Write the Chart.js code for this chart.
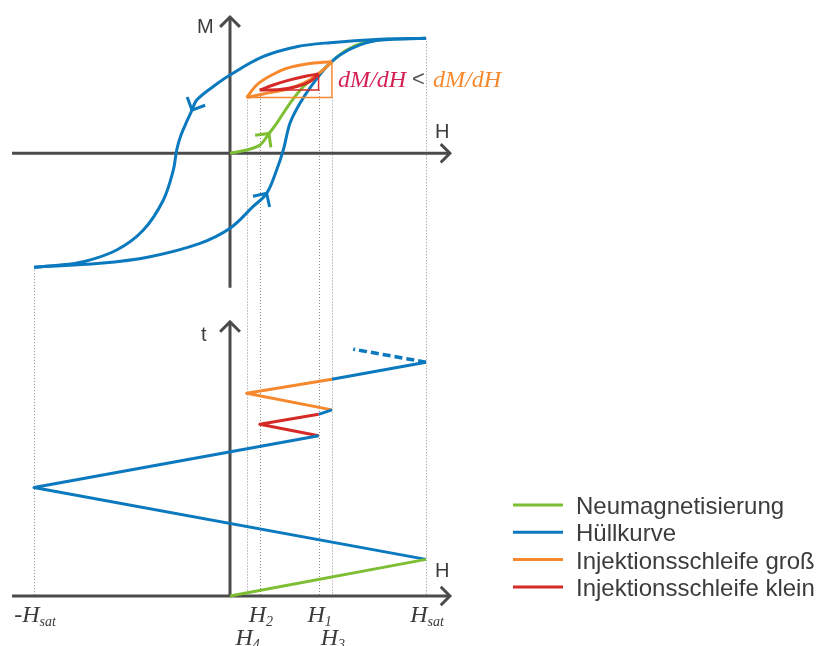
<!DOCTYPE html>
<html>
<head>
<meta charset="utf-8">
<script src="https://cdn.jsdelivr.net/npm/chart.js@4.4.0/dist/chart.umd.min.js"></script>
<style>
  html, body { margin: 0; padding: 0; background: #fff; }
  #wrap { position: relative; width: 816px; height: 646px; }
  canvas { position: absolute; left: 0; top: 0; }
</style>
</head>
<body>
<div id="wrap"><canvas id="hyst" width="816" height="646"></canvas></div>
<script>
// H in units of H_sat, M in units of M_sat, t in arbitrary time steps

// field values of the turning points
const H4 = 0.085, H2 = 0.152, H1 = 0.452, H3 = 0.520;

// envelope (Hüllkurve), descending branch from +H_sat
const envDownH = [1.0, 0.765, 0.510, 0.340, 0.168, 0.0, -0.087, -0.170, -0.194, -0.217, -0.250, -0.272, -0.289, -0.340, -0.442, -0.578, -0.748, -0.893, -1.0];
const envDownM = [1.0, 0.991, 0.962, 0.927, 0.840, 0.681, 0.579, 0.463, 0.376, 0.290, 0.159, 0.029, -0.145, -0.406, -0.667, -0.841, -0.943, -0.976, -0.99];

// envelope, ascending branch from -H_sat
const envUpH = [-1.0, -0.663, -0.408, -0.153, 0.0, 0.117, 0.187, 0.238, 0.272, 0.306, 0.357, 0.419, 0.493, 0.561, 0.663, 0.765, 1.0];
const envUpM = [-0.99, -0.957, -0.899, -0.783, -0.652, -0.464, -0.348, -0.145, 0.029, 0.261, 0.435, 0.595, 0.753, 0.855, 0.942, 0.985, 1.0];

// virgin curve (Neumagnetisierung)
const virginH = [0, 0.085, 0.153, 0.199, 0.238, 0.306, 0.374, H1, H3, 0.595, 0.697, 0.816];
const virginM = [0, 0.029, 0.072, 0.172, 0.261, 0.435, 0.579, 0.690, 0.797, 0.898, 0.970, 0.994];

// large minor loop H3 -> H4 -> H3
const bigUpperH = [H3, 0.391, 0.289, 0.204, 0.136, H4];
const bigUpperM = [0.797, 0.777, 0.739, 0.672, 0.594, 0.485];
const bigLowerH = [H4, 0.170, 0.289, 0.391, 0.476, H3];
const bigLowerM = [0.485, 0.516, 0.557, 0.623, 0.725, 0.797];

// small minor loop H1 -> H2 -> H1
const smallUpperH = [H1, 0.391, 0.306, 0.221, H2];
const smallUpperM = [0.690, 0.672, 0.638, 0.594, 0.550];
const smallLowerH = [H2, 0.255, 0.342, 0.408, H1];
const smallLowerM = [0.550, 0.555, 0.581, 0.624, 0.690];

// secant triangles
const bigTriH = [H4, H3, H3];
const bigTriM = [0.485, 0.485, 0.797];
const smallTriH = [H2, H1, H1];
const smallTriM = [0.550, 0.550, 0.690];

// field over time
const tVirginH = [0, 1];
const tVirginT = [0, 0.99];
const tEnvH = [1, -1, H1];
const tEnvT = [0.99, 2.93, 4.33];
const tSmallH = [H1, H2, H1];
const tSmallT = [4.33, 4.64, 4.91];
const tEnv2H = [H1, H3];
const tEnv2T = [4.91, 5.03];
const tBigH = [H3, H4, H3];
const tBigT = [5.03, 5.48, 5.86];
const tEnv3H = [H3, 1];
const tEnv3T = [5.86, 6.32];
const tNextH = [1, 0.629];
const tNextT = [6.32, 6.67];

// field ticks on the time axis
const tickH = [-1, H4, H2, H1, H3, 1];
const tickBase = ['-H', 'H', 'H', 'H', 'H', 'H'];
const tickSub = ['sat', '4', '2', '1', '3', 'sat'];
const tickRow = [0, 1, 0, 0, 1, 0];

// dotted guides: field and the M value where the guide starts
const guideH = [-1, H4, H2, H1, H3, 1];
const guideM = [-0.99, 0.485, 0.550, 0.550, 0.485, 1.0];

const legendLabels = ['Neumagnetisierung', 'Hüllkurve', 'Injektionsschleife groß', 'Injektionsschleife klein'];

const GREEN = '#7dbe33', BLUE = '#0b79be', ORANGE = '#f6892e', RED = '#d52a27';
const legendColors = [GREEN, BLUE, ORANGE, RED];
const AXIS = '#4b4b4b', DOT = '#8c8c8c', TEXT = '#3c3c3c';

const pts = (xs, ys) => xs.map((x, i) => ({ x: x, y: ys[i] }));

function curve(xs, ys, color, axis, extra) {
  return Object.assign({
    data: pts(xs, ys),
    yAxisID: axis,
    borderColor: color,
    borderWidth: 3,
    borderJoinStyle: 'round',
    tension: 0.35,
    pointRadius: 0,
    fill: false
  }, extra || {});
}

const datasets = [
  // top panel: M(H)
  curve(smallTriH, smallTriM, RED, 'm', { borderWidth: 1.5, tension: 0, borderJoinStyle: 'miter' }),
  curve(smallUpperH, smallUpperM, RED, 'm'),
  curve(smallLowerH, smallLowerM, RED, 'm'),
  curve(bigTriH, bigTriM, ORANGE, 'm', { borderWidth: 1.5, tension: 0, borderJoinStyle: 'miter' }),
  curve(bigUpperH, bigUpperM, ORANGE, 'm'),
  curve(bigLowerH, bigLowerM, ORANGE, 'm'),
  curve(envDownH, envDownM, BLUE, 'm', { arrowAt: 8 }),
  curve(envUpH, envUpM, BLUE, 'm', { arrowAt: 6 }),
  curve(virginH, virginM, GREEN, 'm', { arrowAt: 3 }),
  // bottom panel: H(t)
  curve(tVirginH, tVirginT, GREEN, 't', { tension: 0 }),
  curve(tEnvH, tEnvT, BLUE, 't', { tension: 0 }),
  curve(tSmallH, tSmallT, RED, 't', { tension: 0 }),
  curve(tEnv2H, tEnv2T, BLUE, 't', { tension: 0 }),
  curve(tBigH, tBigT, ORANGE, 't', { tension: 0 }),
  curve(tEnv3H, tEnv3T, BLUE, 't', { tension: 0 }),
  curve(tNextH, tNextT, BLUE, 't', { tension: 0, borderDash: [8, 4], borderWidth: 3.5, borderCapStyle: 'butt' })
];

function chevron(ctx, x, y, ang, len, color, lw) {
  ctx.save();
  ctx.strokeStyle = color;
  ctx.lineWidth = lw;
  ctx.lineJoin = 'miter';
  ctx.beginPath();
  ctx.moveTo(x + len * Math.cos(ang + Math.PI * 0.75), y + len * Math.sin(ang + Math.PI * 0.75));
  ctx.lineTo(x, y);
  ctx.lineTo(x + len * Math.cos(ang - Math.PI * 0.75), y + len * Math.sin(ang - Math.PI * 0.75));
  ctx.stroke();
  ctx.restore();
}

const decor = {
  id: 'decor',
  beforeDatasetsDraw(chart) {
    const ctx = chart.ctx;
    const sx = chart.scales.x, sm = chart.scales.m, st = chart.scales.t;

    // dotted guides from the curves down to the time axis
    ctx.save();
    ctx.strokeStyle = DOT;
    ctx.lineWidth = 1;
    ctx.setLineDash([1, 2]);
    guideH.forEach((h, i) => {
      const x = Math.round(sx.getPixelForValue(h)) + 0.5;
      ctx.beginPath();
      ctx.moveTo(x, sm.getPixelForValue(guideM[i]));
      ctx.lineTo(x, st.getPixelForValue(0));
      ctx.stroke();
    });
    ctx.restore();

    // axes
    ctx.save();
    ctx.strokeStyle = AXIS;
    ctx.lineWidth = 3;
    const x0 = sx.getPixelForValue(0);
    const xl = sx.getPixelForValue(-1.112), xr = sx.getPixelForValue(1.122);
    const yM0 = sm.getPixelForValue(0), yT0 = st.getPixelForValue(0);
    const mTop = sm.getPixelForValue(1.185), mBot = sm.getPixelForValue(-1.17);
    const tTop = st.getPixelForValue(7.41);
    ctx.beginPath();
    ctx.moveTo(xl, yM0); ctx.lineTo(xr, yM0);
    ctx.moveTo(x0, mBot); ctx.lineTo(x0, mTop);
    ctx.moveTo(xl, yT0); ctx.lineTo(xr, yT0);
    ctx.moveTo(x0, yT0); ctx.lineTo(x0, tTop);
    ctx.stroke();
    ctx.restore();
    chevron(ctx, xr, yM0, 0, 13, AXIS, 3);
    chevron(ctx, xr, yT0, 0, 13, AXIS, 3);
    chevron(ctx, x0, mTop, -Math.PI / 2, 14, AXIS, 3);
    chevron(ctx, x0, tTop, -Math.PI / 2, 14, AXIS, 3);
  },
  afterDatasetsDraw(chart) {
    const ctx = chart.ctx;
    const sx = chart.scales.x;

    // direction arrows on the curves
    chart.data.datasets.forEach((ds, i) => {
      if (ds.arrowAt === undefined) return;
      const p = chart.getDatasetMeta(i).data;
      const k = ds.arrowAt;
      const a = p[k - 1], b = p[k + 1];
      chevron(ctx, p[k].x, p[k].y, Math.atan2(b.y - a.y, b.x - a.x), 14, ds.borderColor, 3);
    });

    ctx.save();
    ctx.fillStyle = TEXT;
    ctx.textBaseline = 'alphabetic';
    ctx.font = '20px "Liberation Sans", Arial, sans-serif';
    ctx.fillText('M', 197, 33);
    ctx.fillText('H', 435, 138);
    ctx.fillText('t', 201, 341);
    ctx.fillText('H', 435, 577);

    // slope comparison
    ctx.font = 'italic 24px "Liberation Serif", serif';
    ctx.fillStyle = '#d41f52';
    ctx.fillText('dM/dH', 338, 87);
    ctx.fillStyle = ORANGE;
    ctx.fillText('dM/dH', 433, 87);
    ctx.font = '22px "Liberation Sans", Arial, sans-serif';
    ctx.fillStyle = '#555';
    ctx.fillText('<', 412, 86);

    // field tick labels
    ctx.fillStyle = TEXT;
    tickH.forEach((h, i) => {
      ctx.font = 'italic 24px "Liberation Serif", serif';
      const wb = ctx.measureText(tickBase[i]).width;
      ctx.font = 'italic 14px "Liberation Serif", serif';
      const ws = ctx.measureText(tickSub[i]).width;
      const x = sx.getPixelForValue(h) - (wb + ws) / 2 + 1;
      const y = tickRow[i] === 0 ? 622 : 645;
      ctx.font = 'italic 24px "Liberation Serif", serif';
      ctx.fillText(tickBase[i], x, y);
      ctx.font = 'italic 14px "Liberation Serif", serif';
      ctx.fillText(tickSub[i], x + wb, y + 4);
    });

    // legend
    ctx.font = '24px "Liberation Sans", Arial, sans-serif';
    legendLabels.forEach((lab, i) => {
      const y = 505 + i * 27.3;
      ctx.strokeStyle = legendColors[i];
      ctx.lineWidth = 3;
      ctx.beginPath();
      ctx.moveTo(513, y); ctx.lineTo(563, y);
      ctx.stroke();
      ctx.fillStyle = TEXT;
      ctx.fillText(lab, 576, y + 9);
    });
    ctx.restore();
  }
};

new Chart(document.getElementById('hyst'), {
  type: 'line',
  data: { datasets: datasets },
  options: {
    responsive: false,
    animation: false,
    devicePixelRatio: 1,
    events: [],
    layout: { padding: 0 },
    plugins: { legend: { display: false }, tooltip: { enabled: false } },
    scales: {
      x: { type: 'linear', display: false, bounds: 'data', min: -1.1735, max: 2.9898 },
      m: { type: 'linear', display: false, bounds: 'data', position: 'left', min: -4.2844, max: 1.3330 },
      t: { type: 'linear', display: false, bounds: 'data', position: 'right', min: -1.3514, max: 16.1081 }
    }
  },
  plugins: [decor]
});
</script>
</body>
</html>
